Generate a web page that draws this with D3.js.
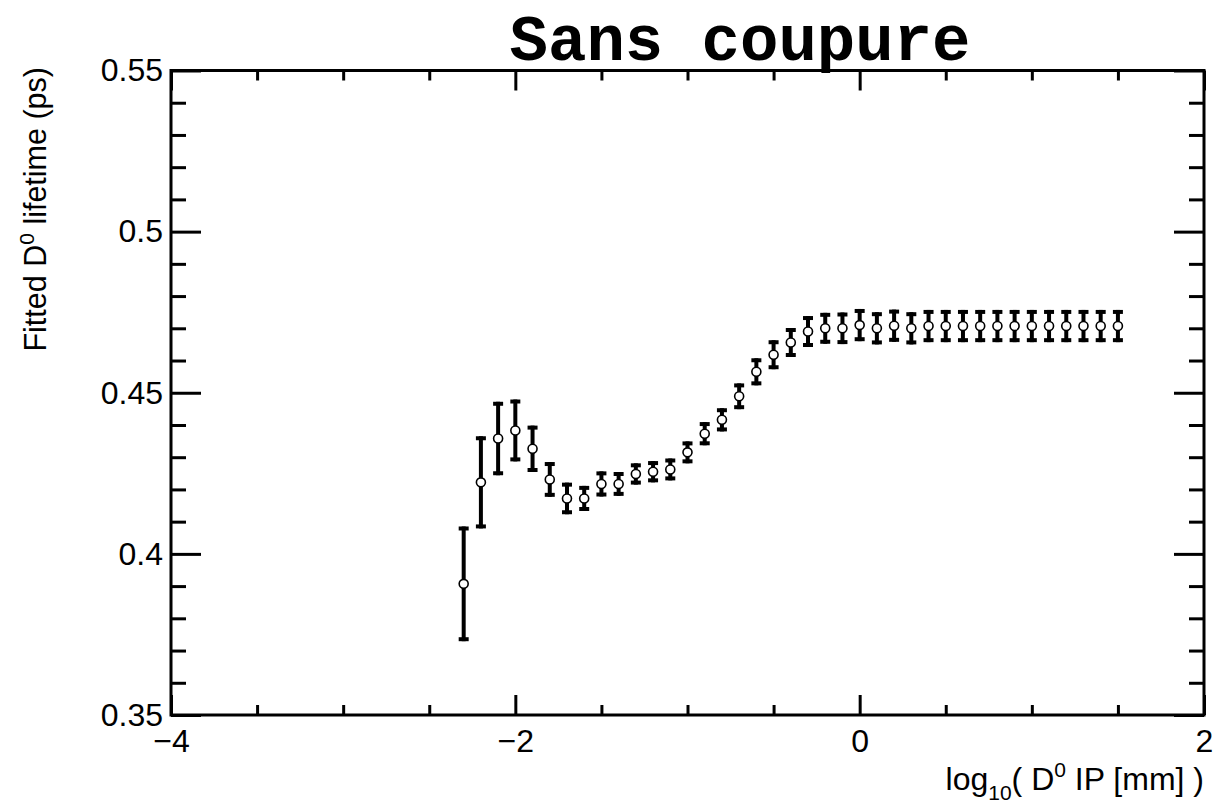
<!DOCTYPE html>
<html>
<head>
<meta charset="utf-8">
<script src="https://cdn.jsdelivr.net/npm/d3@7"></script>
<style>
  body { margin: 0; background: #fff; }
  svg { display: block; }
  .axis text { font-family: "Liberation Sans", Arial, sans-serif; font-size: 32px; fill: #000; }
  .axis line { stroke: #000; stroke-width: 3; }
  .axis path { display: none; }
</style>
</head>
<body>
<svg id="chart" width="1216" height="807"></svg>
<script>
// bin centres, log10(IP/mm)
const ipLog = [-2.3, -2.2, -2.1, -2.0, -1.9, -1.8, -1.7, -1.6, -1.5, -1.4,
               -1.3, -1.2, -1.1, -1.0, -0.9, -0.8, -0.7, -0.6, -0.5, -0.4,
               -0.3, -0.2, -0.1, 0.0, 0.1, 0.2, 0.3, 0.4, 0.5, 0.6,
               0.7, 0.8, 0.9, 1.0, 1.1, 1.2, 1.3, 1.4, 1.5];
// fitted lifetime (ps)
const lifetime = [0.3907, 0.4222, 0.4358, 0.4383, 0.4326, 0.4231, 0.4172, 0.4172, 0.4217, 0.4217,
                  0.4248, 0.4255, 0.4262, 0.4315, 0.4373, 0.4416, 0.4489, 0.4565, 0.4618, 0.4656,
                  0.4690, 0.4700, 0.4700, 0.4710, 0.4700, 0.4708, 0.4700, 0.4707, 0.4707, 0.4707,
                  0.4707, 0.4707, 0.4707, 0.4707, 0.4707, 0.4707, 0.4707, 0.4707, 0.4707];
const lifetimeErr = [0.0178, 0.0143, 0.0114, 0.0096, 0.0072, 0.0054, 0.0049, 0.0039, 0.0039, 0.0037,
                     0.0033, 0.0033, 0.0034, 0.0034, 0.0036, 0.0036, 0.0040, 0.0042, 0.0045, 0.0045,
                     0.0048, 0.0048, 0.0049, 0.0050, 0.0050, 0.0050, 0.0050, 0.0050, 0.0050, 0.0050,
                     0.0050, 0.0050, 0.0050, 0.0050, 0.0050, 0.0050, 0.0050, 0.0050, 0.0050];

const xMajor = [-4, -2, 0, 2];
const xMinor = [-3.5, -3, -2.5, -1.5, -1, -0.5, 0.5, 1, 1.5];
const yMajor = [0.35, 0.4, 0.45, 0.5, 0.55];
const yMinor = [0.36, 0.37, 0.38, 0.39, 0.41, 0.42, 0.43, 0.44, 0.46, 0.47, 0.48, 0.49,
                0.51, 0.52, 0.53, 0.54];

const svg = d3.select("#chart");
const padL = 171, padR = 1204, padT = 70.5, padB = 715;

const x = d3.scaleLinear().domain([-4, 2]).range([padL, padR]);
const y = d3.scaleLinear().domain([0.35, 0.55]).range([padB, padT]);

const data = ipLog.map((v, i) => ({ x: v, y: lifetime[i], e: lifetimeErr[i] }));

// ticks: bottom / top
svg.append("g").attr("class", "axis").attr("transform", `translate(0,${padB})`)
    .call(d3.axisBottom(x).tickValues(xMajor).tickSize(-20).tickSizeOuter(0).tickPadding(14)
        .tickFormat(d => d === 0 ? "0" : d3.format("")(d)));
svg.append("g").attr("class", "axis").attr("transform", `translate(0,${padB})`)
    .call(d3.axisBottom(x).tickValues(xMinor).tickSize(-10).tickSizeOuter(0).tickFormat(""));
svg.append("g").attr("class", "axis").attr("transform", `translate(0,${padT})`)
    .call(d3.axisTop(x).tickValues(xMajor).tickSize(-20).tickSizeOuter(0).tickFormat(""));
svg.append("g").attr("class", "axis").attr("transform", `translate(0,${padT})`)
    .call(d3.axisTop(x).tickValues(xMinor).tickSize(-10).tickSizeOuter(0).tickFormat(""));

// ticks: left / right
svg.append("g").attr("class", "axis").attr("transform", `translate(${padL},0)`)
    .call(d3.axisLeft(y).tickValues(yMajor).tickSize(-30).tickSizeOuter(0).tickPadding(8)
        .tickFormat(d => String(d)));
svg.append("g").attr("class", "axis").attr("transform", `translate(${padL},0)`)
    .call(d3.axisLeft(y).tickValues(yMinor).tickSize(-15).tickSizeOuter(0).tickFormat(""));
svg.append("g").attr("class", "axis").attr("transform", `translate(${padR},0)`)
    .call(d3.axisRight(y).tickValues(yMajor).tickSize(-30).tickSizeOuter(0).tickFormat(""));
svg.append("g").attr("class", "axis").attr("transform", `translate(${padR},0)`)
    .call(d3.axisRight(y).tickValues(yMinor).tickSize(-15).tickSizeOuter(0).tickFormat(""));

// frame
svg.append("rect")
    .attr("x", padL).attr("y", padT)
    .attr("width", padR - padL).attr("height", padB - padT)
    .attr("fill", "none").attr("stroke", "#000").attr("stroke-width", 3);

// error bars
const pts = svg.append("g");
pts.selectAll(".bar").data(data).enter().append("line")
    .attr("x1", d => x(d.x)).attr("x2", d => x(d.x))
    .attr("y1", d => y(d.y - d.e)).attr("y2", d => y(d.y + d.e))
    .attr("stroke", "#000").attr("stroke-width", 4);
pts.selectAll(".capHi").data(data).enter().append("line")
    .attr("x1", d => x(d.x) - 5).attr("x2", d => x(d.x) + 5)
    .attr("y1", d => y(d.y + d.e) + 2).attr("y2", d => y(d.y + d.e) + 2)
    .attr("stroke", "#000").attr("stroke-width", 4);
pts.selectAll(".capLo").data(data).enter().append("line")
    .attr("x1", d => x(d.x) - 5).attr("x2", d => x(d.x) + 5)
    .attr("y1", d => y(d.y - d.e) - 2).attr("y2", d => y(d.y - d.e) - 2)
    .attr("stroke", "#000").attr("stroke-width", 4);
pts.selectAll(".dot").data(data).enter().append("circle")
    .attr("cx", d => x(d.x)).attr("cy", d => y(d.y)).attr("r", 4.5)
    .attr("fill", "#fff").attr("stroke", "#000").attr("stroke-width", 1.6);

// title
svg.append("text")
    .attr("x", 740).attr("y", 60)
    .attr("text-anchor", "middle")
    .style("font-family", "'Liberation Mono', 'DejaVu Sans Mono', monospace")
    .style("font-weight", "bold").style("font-size", "64px")
    .text("Sans coupure");

// y label
const yl = svg.append("text")
    .attr("transform", "translate(46,67) rotate(-90)")
    .attr("text-anchor", "end")
    .style("font-family", "'Liberation Sans', Arial, sans-serif").style("font-size", "30.5px");
yl.append("tspan").text("Fitted D");
yl.append("tspan").attr("dy", -12).style("font-size", "21px").text("0");
yl.append("tspan").attr("dy", 12).text(" lifetime (ps)");

// x label
const xl = svg.append("text")
    .attr("x", 1204).attr("y", 790)
    .attr("text-anchor", "end")
    .style("font-family", "'Liberation Sans', Arial, sans-serif").style("font-size", "32px");
xl.append("tspan").text("log");
xl.append("tspan").attr("dy", 10).style("font-size", "21px").text("10");
xl.append("tspan").attr("dy", -10).text("( D");
xl.append("tspan").attr("dy", -13).style("font-size", "21px").text("0");
xl.append("tspan").attr("dy", 13).text(" IP [mm] )");
</script>
</body>
</html>
